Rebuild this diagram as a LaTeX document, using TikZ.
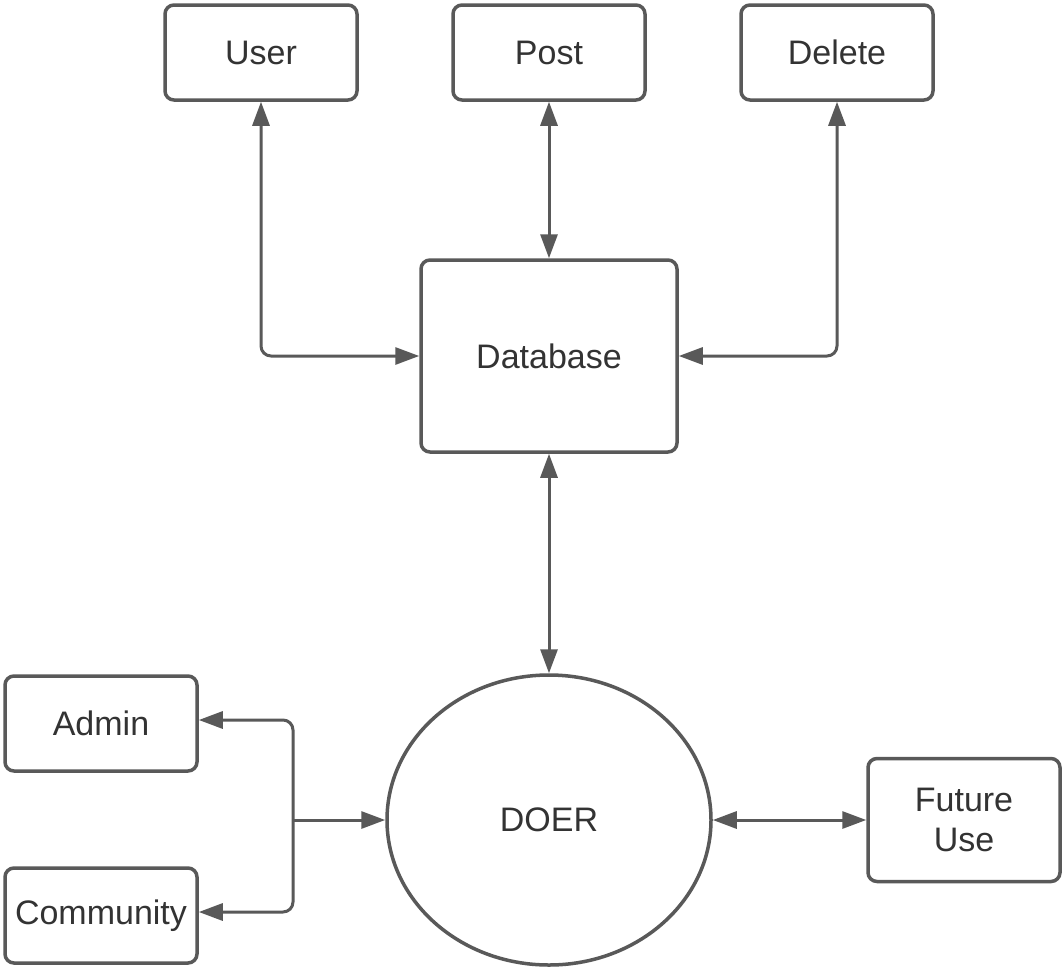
\documentclass[tikz,border=0pt]{standalone}
\usepackage{fontspec}
\setmainfont{Liberation Sans}
\usetikzlibrary{arrows.meta,shapes.geometric}
\definecolor{ln}{HTML}{595959}
\definecolor{tx}{HTML}{333333}
\begin{document}
\begin{tikzpicture}[x=1pt,y=-1pt,
  box/.style={draw=ln,line width=3.5pt,rounded corners=9pt,text=tx,font=\fontsize{34}{40}\selectfont,align=center,inner sep=0pt},
  conn/.style={draw=ln,line width=3pt,rounded corners=10pt,{Triangle[length=24pt,width=17pt]}-{Triangle[length=24pt,width=17pt]}},
  oneway/.style={draw=ln,line width=3pt,-{Triangle[length=24pt,width=17pt]}}]
\useasboundingbox[fill=white] (0,0) rectangle (1062,972);
\node[box,minimum width=192pt,minimum height=95pt] (user) at (261,52.5) {User};
\node[box,minimum width=192pt,minimum height=95pt] (post) at (549,52.5) {Post};
\node[box,minimum width=192pt,minimum height=95pt] (delete) at (837,52.5) {Delete};
\node[box,minimum width=256pt,minimum height=192pt] (db) at (549,356) {Database};
\node[box,ellipse,minimum width=324pt,minimum height=290pt] (doer) at (549,820) {DOER};
\node[box,minimum width=192pt,minimum height=95pt] (admin) at (101,723.5) {Admin};
\node[box,minimum width=192pt,minimum height=95pt] (comm) at (101,915.5) {Community};
\node[box,minimum width=192pt,minimum height=123pt] (future) at (964,820) {Future\\Use};
\coordinate (j) at (293,820);
\draw[conn] (user.south) |- (db.west);
\draw[conn] (post.south) -- (db.north);
\draw[conn] (delete.south) |- (db.east);
\draw[conn] (db.south) -- (doer.north);
\draw[conn] (doer.east) -- (future.west);
\draw[conn] (admin.east |- 0,720) -| (j) |- (comm.east |- 0,912);
\draw[oneway] (j) -- (doer.west);
\end{tikzpicture}
\end{document}
